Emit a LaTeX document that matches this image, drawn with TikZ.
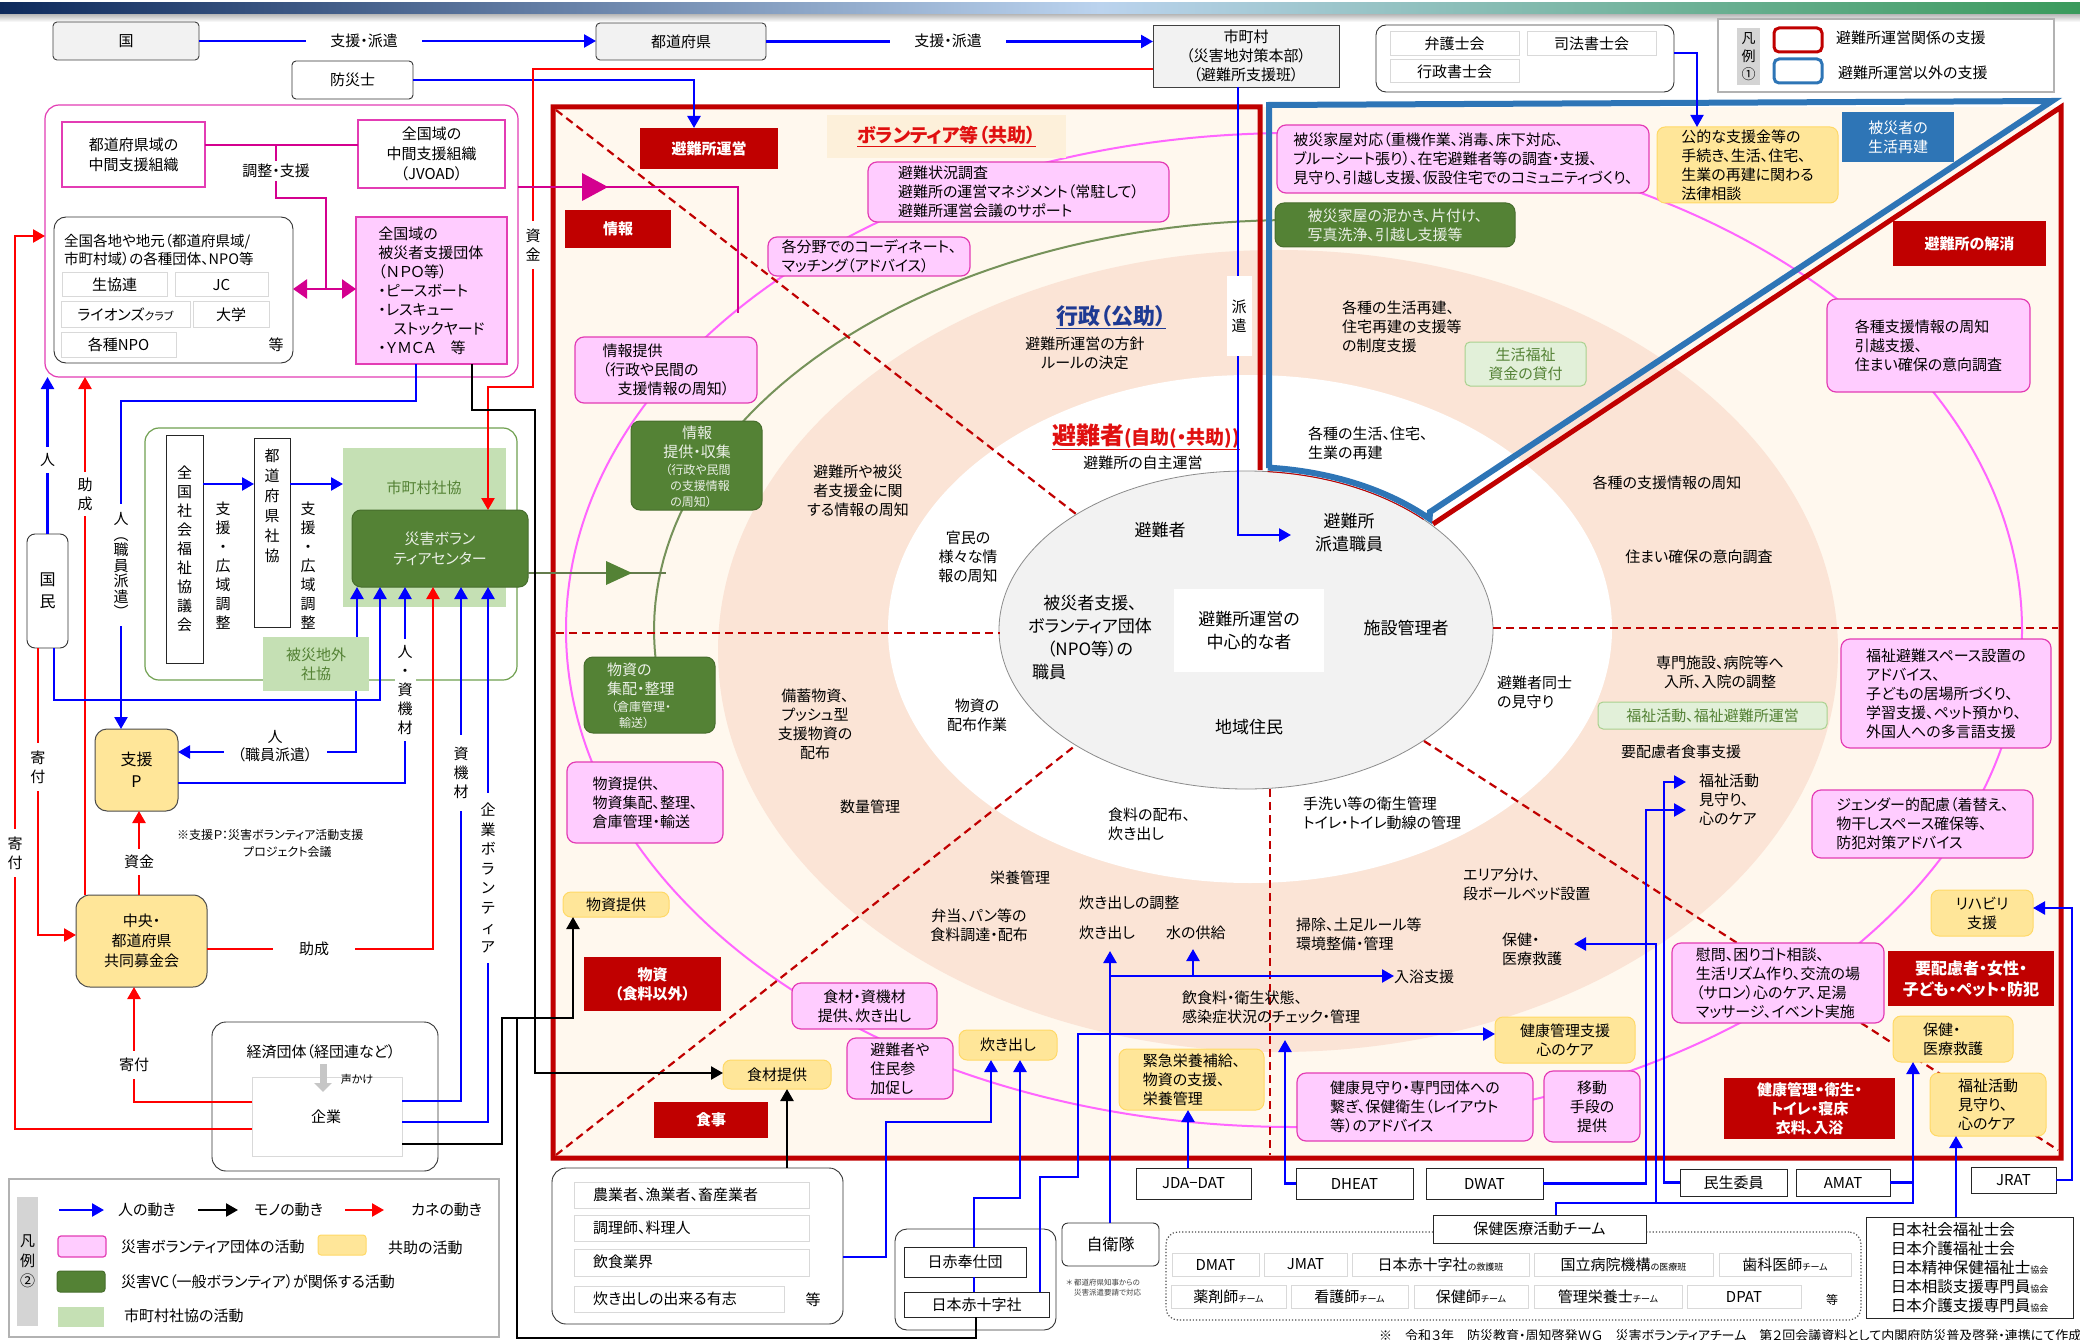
\documentclass[tikz,border=0pt]{standalone}
\usepackage{fontspec}
\setmainfont{Noto Sans CJK JP}[RawFeature=+palt]
\usetikzlibrary{arrows.meta,calc}
\newcommand\fsz[2]{\fontsize{#1}{#2}\selectfont}
\newcommand\bx[7]{\node[#2,anchor=north west,minimum width=#5pt-#3pt,minimum height=#6pt-#4pt] (#1) at (#3,#4) {#7};}
\definecolor{gfill}{HTML}{F2F2F2}
\definecolor{pinkF}{HTML}{FFCCFF}
\definecolor{pinkB}{HTML}{E33CB4}
\definecolor{pinkL}{HTML}{FF66FF}
\definecolor{mag}{HTML}{D4008F}
\definecolor{yelF}{HTML}{FFE699}
\definecolor{yelB}{HTML}{FFD966}
\definecolor{dkred}{HTML}{C00000}
\definecolor{dgreen}{HTML}{548235}
\definecolor{lgreen}{HTML}{C5E0B4}
\definecolor{lgF}{HTML}{E2F0D9}
\definecolor{lgB}{HTML}{A9D18E}
\definecolor{cream}{HTML}{FFF8EE}
\definecolor{peach}{HTML}{FBE4D6}
\definecolor{volbg}{HTML}{FDF0DA}
\definecolor{stblue}{HTML}{2E75B6}
\definecolor{olive}{HTML}{76925A}
\definecolor{navy}{HTML}{0E2A5C}
\definecolor{skyb}{HTML}{BBD3EE}
\definecolor{topg}{HTML}{3A9A5C}
\definecolor{gyblue}{HTML}{1F3A93}
\definecolor{grpG}{HTML}{70A050}
\definecolor{redt}{HTML}{E01010}
\begin{document}
\begin{tikzpicture}[x=1pt,y=-1pt,
  bxs/.style={inner sep=0pt,outer sep=0pt,align=center,font=\fsz{15}{19}},
  gry/.style={bxs,draw=black!75,fill=gfill,rounded corners=4pt,line width=0.9pt},
  wht/.style={bxs,draw=black!80,fill=white,rounded corners=4pt,line width=0.9pt},
  sq/.style={bxs,draw=black!85,fill=white,line width=0.9pt},
  subb/.style={bxs,draw=black!15,fill=white,line width=1pt},
  pnk/.style={bxs,draw=pinkB,fill=pinkF,rounded corners=9pt,line width=1.2pt},
  ylw/.style={bxs,draw=yelB,fill=yelF,rounded corners=8pt,line width=1pt},
  rdb/.style={bxs,fill=dkred,text=white,font=\fsz{15}{19}\bfseries},
  dgr/.style={bxs,fill=dgreen,draw=dgreen!85!black,rounded corners=9pt,text=white!88!dgreen,line width=1pt},
  lgr/.style={bxs,fill=lgF,draw=lgB,rounded corners=5pt,text=dgreen,line width=1pt},
  txt/.style={inner sep=0pt,align=center,font=\fsz{15}{19}},
  lab/.style={txt,fill=white,inner sep=3pt},
  arr/.style={-{Triangle[length=12pt,width=13pt]}},
  bl/.style={draw=blue,line width=2.4pt},
  rd/.style={draw=red,line width=2.4pt},
  bk/.style={draw=black,line width=2.4pt},
  mg/.style={draw=mag,line width=2.6pt},
  dsh/.style={draw=dkred,line width=2.2pt,dash pattern=on 8pt off 5pt}]
\useasboundingbox (0,0) rectangle (2080,1340);
\fill[white] (0,0) rectangle (2080,1340);
% top bar
\shade[left color=navy,right color=skyb] (0,3) rectangle (1100,15);
\shade[left color=skyb,right color=topg] (1100,3) rectangle (2080,15);
\shade[top color=black!25,bottom color=white] (0,15) rectangle (2080,22);

% ===== main area background =====
\fill[cream] (553,107) rectangle (2061,1158);
\fill[peach] (1278,651) ellipse [x radius=560pt,y radius=401pt];
\fill[white] (1250,629) ellipse [x radius=362pt,y radius=254pt];
\draw[pinkL,line width=2pt] (1294,630) ellipse [x radius=728pt,y radius=497pt];
\draw[olive,line width=2pt] plot[domain=91.7:184,samples=60] ({1294+640*cos(\x)},{630-410*sin(\x)});
\filldraw[fill=gfill,draw=black!45,line width=0.8pt] (1246,630) ellipse [x radius=247pt,y radius=159pt];
\draw[dkred,line width=1pt] plot[domain=44:85,samples=20] ({1246+247*cos(\x)},{630-159*sin(\x)});
% dashed dividers
\draw[dsh] (556,110) -- (1076,514);
\draw[dsh] (556,633) -- (1000,633);
\draw[dsh] (556,1155) -- (1076,745);
\draw[dsh] (1270,789) -- (1270,1155);
\draw[dsh] (1424,741) -- (2058,1150);
\draw[dsh] (1493,628) -- (2058,628);
% outlines
\draw[stblue,line width=6pt,line join=miter] (1269,468) -- (1269,105) -- (2052,101) -- (1430,512) -- plot[domain=43:85,samples=30] ({1246+251*cos(\x)},{630-163*sin(\x)});
\draw[dkred,line width=5pt,line join=miter] (1260,470) -- (1260,107) -- (553,107) -- (553,1158) -- (2061,1158) -- (2061,107) -- (1433,524);

% ===== top row =====
\bx{kuni}{gry}{53}{22}{199}{60}{国}
\bx{todo}{gry}{596}{23}{766}{60}{都道府県}
\bx{shi}{gry,sharp corners,font=\fsz{15}{19}}{1153}{25}{1339}{87}{市町村\\（災害地対策本部）\\（避難所支援班）}
\bx{bosai}{wht}{292}{61}{413}{99}{防災士}
\bx{law}{wht,rounded corners=10pt}{1376}{25}{1674}{92}{}
\bx{l1}{subb}{1390}{32}{1519}{56}{弁護士会}
\bx{l2}{subb}{1527}{32}{1656}{56}{司法書士会}
\bx{l3}{subb}{1390}{60}{1519}{83}{行政書士会}
% legend 1
\bx{leg1}{bxs,draw=black!30,line width=1.5pt,fill=white}{1718}{19}{2054}{92}{}
\bx{leg1s}{bxs,fill=black!17,font=\fsz{14}{18}}{1737}{28}{1760}{85}{凡\\例\\①}
\bx{leg1r}{bxs,draw=dkred,line width=3pt,rounded corners=5pt}{1774}{28}{1822}{52}{}
\bx{leg1b}{bxs,draw=stblue,line width=3pt,rounded corners=5pt}{1774}{59}{1822}{83}{}
\node[txt,anchor=west] (leg1t1) at (1836,38) {避難所運営関係の支援};
\node[txt,anchor=west] (leg1t2) at (1838,73) {避難所運営以外の支援};

% ===== pink group =====
\bx{pg}{wht,draw=pinkB,rounded corners=14pt,line width=1.2pt}{45}{105}{518}{377}{}
\bx{pmid}{sq,draw=pinkB,line width=1.2pt,font=\fsz{15}{20}}{62}{122}{205}{187}{都道府県域の\\中間支援組織}
\bx{jvoad}{sq,draw=pinkB,line width=1.2pt,font=\fsz{15}{20}}{358}{120}{505}{188}{全国域の\\中間支援組織\\（JVOAD）}
\bx{orgs}{wht,rounded corners=12pt}{54}{217}{293}{363}{}
\node[txt,align=left,anchor=north west,font=\fsz{14.5}{18}] (orgt) at (64,234) {全国各地や地元（都道府県域/\\市町村域）の各種団体、NPO等};
\bx{o1}{subb}{62}{273}{167}{297}{生協連}
\bx{o2}{subb}{175}{273}{268}{297}{JC}
\bx{o3}{subb}{61}{302}{190}{327}{ライオンズ{\fsz{11}{13}クラブ}}
\bx{o4}{subb}{193}{302}{269}{327}{大学}
\bx{o5}{subb}{61}{332}{176}{357}{各種NPO}
\node[txt] (oetc) at (276,345) {等};
\bx{hsd}{pnk,rounded corners=0pt,align=left}{356}{217}{507}{364}{全国域の\\被災者支援団体\\（ＮＰＯ等）\\・ピースボート\\・レスキュー\\　ストックヤード\\・ＹＭＣＡ　等}

% ===== shakyo group =====
\bx{sg}{wht,draw=grpG,rounded corners=14pt,line width=1.2pt}{145}{428}{517}{680}{}
\bx{msk}{bxs,fill=lgreen}{343}{448}{506}{607}{}
\node[txt,text=dgreen] (mskt) at (424,488) {市町村社協};
\bx{zsk}{sq}{166}{435}{203}{663}{全\\国\\社\\会\\福\\祉\\協\\議\\会}
\bx{tsk}{sq}{254}{438}{290}{627}{}
\node[txt,font=\fsz{15}{20}] (tskt) at (272,506) {都\\道\\府\\県\\社\\協};
\bx{vc}{dgr,font=\fsz{15}{20}}{352}{510}{528}{587}{災害ボラン\\ティアセンター}
\bx{hgs}{bxs,fill=lgreen,text=dgreen}{263}{637}{369}{691}{被災地外\\社協}
\bx{km}{wht,rounded corners=8pt,font=\fsz{16}{22}}{27}{534}{68}{648}{国\\民}
\bx{spp}{ylw,draw=black!70,rounded corners=12pt,font=\fsz{16}{22}}{95}{729}{178}{811}{支援\\P}
\bx{chuo}{ylw,draw=black!70,rounded corners=14pt,font=\fsz{15}{20}}{76}{895}{207}{987}{中央・\\都道府県\\共同募金会}
\bx{keidan}{wht,rounded corners=14pt}{212}{1022}{438}{1171}{}
\node[txt] (kdt) at (321,1052) {経済団体（経団連など）};
\bx{kigyo}{bxs,draw=black!15,fill=white,line width=1pt}{252}{1077}{402}{1156}{}
\node[txt] (kgt) at (326,1117) {企業};
\draw[gray!45,line width=7pt,-{Triangle[length=9pt,width=17pt]}] (323,1064) -- (323,1092);
\node[txt,font=\fsz{11}{13}] (koe) at (357,1079) {声かけ};
\node[txt,anchor=west,font=\fsz{12}{15}] (note1) at (177,835) {※支援Ｐ：災害ボランティア活動支援};
\node[txt,anchor=west,font=\fsz{12}{15}] (note2) at (243,852) {プロジェクト会議};

% legend 2
\bx{leg2}{bxs,draw=black!30,line width=2.5pt,fill=white}{9}{1179}{499}{1337}{}
\bx{leg2s}{bxs,fill=black!17,font=\fsz{15}{20}}{17}{1197}{38}{1326}{凡\\例\\②}
\draw[bl,arr] (59,1210) -- (104,1210);
\draw[bk,arr] (198,1210) -- (238,1210);
\draw[rd,arr] (345,1210) -- (384,1210);
\node[txt,anchor=west] (lg1) at (118,1210) {人の動き};
\node[txt,anchor=west] (lg2) at (254,1210) {モノの動き};
\node[txt,anchor=west] (lg3) at (411,1210) {カネの動き};
\bx{lgp}{pnk,rounded corners=3pt}{58}{1236}{106}{1257}{}
\node[txt,anchor=west] (lg4) at (121,1247) {災害ボランティア団体の活動};
\bx{lgy}{ylw,rounded corners=3pt}{318}{1235}{366}{1255}{}
\node[txt,anchor=west] (lg5) at (388,1248) {共助の活動};
\bx{lgd}{dgr,rounded corners=3pt}{57}{1271}{105}{1292}{}
\node[txt,anchor=west] (lg6) at (121,1282) {災害VC（一般ボランティア）が関係する活動};
\bx{lgl}{bxs,fill=lgreen}{58}{1307}{104}{1327}{}
\node[txt,anchor=west] (lg7) at (124,1316) {市町村社協の活動};

% ===== main area nodes =====
\bx{hu}{rdb}{640}{128}{778}{169}{避難所運営}
\bx{joho}{rdb}{565}{210}{671}{248}{情報}
\bx{volt}{bxs,fill=volbg}{827}{115}{1066}{158}{\textcolor{redt}{\fsz{19}{22}\bfseries\underline{ボランティア等（共助）}}}
\bx{jk}{pnk,align=left}{868}{162}{1169}{222}{避難状況調査\\避難所の運営マネジメント（常駐して）\\避難所運営会議のサポート}
\bx{cd}{pnk,align=left}{768}{237}{970}{276}{各分野でのコーディネート、\\マッチング（アドバイス）}
\bx{jt}{pnk,align=left}{575}{337}{757}{403}{情報提供\\（行政や民間の\\　支援情報の周知）}
\bx{jsc}{dgr}{631}{421}{762}{510}{}
\node[txt,text=white!88!dgreen] (jsct) at (697,442) {情報\\提供・収集};
\node[txt,text=white!88!dgreen,font=\fsz{12}{16},align=left] (jscs) at (698,486) {（行政や民間\\\hspace{5pt}の支援情報\\\hspace{5pt}の周知）};
\bx{bsk}{dgr}{584}{657}{715}{733}{}
\node[txt,text=white!88!dgreen,anchor=west] (bk1) at (607,670) {物資の};
\node[txt,text=white!88!dgreen,anchor=west] (bk2) at (607,689) {集配・整理};
\node[txt,text=white!88!dgreen,anchor=west,font=\fsz{12}{14}] (bk3) at (611,707) {（倉庫管理・};
\node[txt,text=white!88!dgreen,anchor=west,font=\fsz{12}{14}] (bk4) at (619,723) {輸送）};
\bx{bt}{pnk,align=left}{567}{762}{723}{843}{物資提供、\\物資集配、整理、\\倉庫管理・輸送}
\bx{bshi}{ylw}{563}{892}{669}{917}{物資提供}
\bx{bsr}{rdb}{584}{957}{721}{1011}{物資\\（食料以外）}
\bx{shoku}{ylw}{723}{1060}{831}{1089}{食材提供}
\bx{meal}{rdb}{654}{1102}{768}{1138}{食事}
\bx{shk}{pnk}{792}{983}{937}{1029}{食材・資機材\\提供、炊き出し}
\bx{hj}{pnk,align=left}{847}{1038}{953}{1099}{避難者や\\住民参\\加促し}
\bx{tk}{ylw}{959}{1030}{1057}{1060}{炊き出し}

\bx{hk}{pnk,align=left}{1277}{125}{1649}{193}{被災家屋対応（重機作業、消毒、床下対応、\\ブルーシート張り）、在宅避難者等の調査・支援、\\見守り、引越し支援、仮設住宅でのコミュニティづくり、}
\bx{dr}{dgr,align=left}{1275}{203}{1515}{247}{被災家屋の泥かき、片付け、\\写真洗浄、引越し支援等}
\bx{kt}{ylw,align=left}{1657}{127}{1838}{203}{公的な支援金等の\\手続き、生活、住宅、\\生業の再建に関わる\\法律相談}
\bx{sks}{bxs,fill=stblue,text=white}{1842}{112}{1954}{162}{被災者の\\生活再建}
\bx{kaisho}{rdb}{1893}{221}{2046}{266}{避難所の解消}
\bx{ks}{pnk,align=left}{1827}{299}{2030}{392}{各種支援情報の周知\\引越支援、\\住まい確保の意向調査}
\bx{lgf}{lgr}{1465}{342}{1586}{386}{生活福祉\\資金の貸付}
\bx{fkh}{lgr}{1598}{702}{1827}{729}{福祉活動、福祉避難所運営}
\bx{fks}{pnk,align=left}{1841}{639}{2051}{748}{福祉避難スペース設置の\\アドバイス、\\子どもの居場所づくり、\\学習支援、ペット預かり、\\外国人への多言語支援}
\bx{gen}{pnk,align=left}{1812}{790}{2033}{858}{ジェンダー的配慮（着替え、\\物干しスペース確保等、\\防犯対策アドバイス}
\bx{riha}{ylw}{1931}{890}{2033}{936}{リハビリ\\支援}
\bx{yhr}{rdb,font=\fsz{16}{21}\bfseries}{1888}{951}{2054}{1006}{要配慮者・女性・\\子ども・ペット・防犯}
\bx{imon}{pnk,align=left}{1672}{943}{1884}{1023}{慰問、困りゴト相談、\\生活リズム作り、交流の場\\（サロン）心のケア、足湯\\マッサージ、イベント実施}
\bx{hr}{ylw,align=left}{1893}{1016}{2013}{1062}{保健・\\医療救護}
\bx{kkr}{rdb}{1724}{1078}{1895}{1139}{健康管理・衛生・\\トイレ・寝床\\衣料、入浴}
\bx{fk}{ylw,align=left}{1930}{1073}{2046}{1136}{福祉活動\\見守り、\\心のケア}
\bx{kk}{ylw}{1495}{1017}{1635}{1063}{健康管理支援\\心のケア}
\bx{kmm}{pnk,align=left}{1297}{1073}{1533}{1141}{健康見守り・専門団体への\\繋ぎ、保健衛生（レイアウト\\等）のアドバイス}
\bx{ido}{pnk}{1544}{1071}{1640}{1142}{移動\\手段の\\提供}
\bx{ek}{ylw,align=left}{1119}{1049}{1264}{1110}{緊急栄養補給、\\物資の支援、\\栄養管理}

% centre ellipse
\bx{cbox}{bxs,fill=white,font=\fsz{17}{23}}{1174}{589}{1324}{672}{避難所運営の\\中心的な者}
\node[txt,font=\fsz{17}{20}] (e1) at (1160,530) {避難者};
\node[txt,font=\fsz{17}{23}] (hpd) at (1349,533) {避難所\\派遣職員};
\node[txt,font=\fsz{17}{23}] (e3) at (1090,626) {被災者支援、\\ボランティア団体\\（NPO等）の};
\node[txt,font=\fsz{17}{20},anchor=west] (e4) at (1032,672) {職員};
\node[txt,font=\fsz{17}{20}] (e5) at (1406,628) {施設管理者};
\node[txt,font=\fsz{17}{20}] (e6) at (1249,727) {地域住民};

% free texts
\node[txt,text=gyblue,font=\fsz{22}{26}\bfseries] (gyo) at (1111,317) {\underline{行政（公助）}};
\node[txt] (g1) at (1085,353) {避難所運営の方針\\ルールの決定};
\node[txt,text=redt] (hns) at (1146,437) {\bfseries\underline{\fsz{24}{26}避難者\fsz{19}{22}(自助(・共助))}};
\node[txt] (g2) at (1143,463) {避難所の自主運営};
\node[txt,align=left,anchor=west] (g3) at (1342,327) {各種の生活再建、\\住宅再建の支援等\\の制度支援};
\node[txt,align=left,anchor=west] (g4) at (1308,443) {各種の生活、住宅、\\生業の再建};
\node[txt] (g5) at (858,491) {避難所や被災\\者支援金に関\\する情報の周知};
\node[txt] (g6) at (968,557) {官民の\\様々な情\\報の周知};
\node[txt] (g7) at (815,724) {備蓄物資、\\プッシュ型\\支援物資の\\配布};
\node[txt] (g8) at (977,715) {物資の\\配布作業};
\node[txt] (g9) at (870,807) {数量管理};
\node[txt] (g10) at (1020,878) {栄養管理};
\node[txt] (g11) at (979,925) {弁当、パン等の\\食料調達・配布};
\node[txt,anchor=west] (g12) at (1079,903) {炊き出しの調整};
\node[txt,anchor=west] (tkd2) at (1079,933) {炊き出し};
\node[txt,anchor=west] (mizu) at (1166,933) {水の供給};
\node[txt,align=left,anchor=west] (g13) at (1108,824) {食料の配布、\\炊き出し};
\node[txt,align=left,anchor=west] (g14) at (1303,813) {手洗い等の衛生管理\\トイレ・トイレ動線の管理};
\node[txt,align=left,anchor=west] (g15) at (1296,934) {掃除、土足ルール等\\環境整備・管理};
\node[txt,anchor=west] (nyu) at (1394,977) {入浴支援};
\node[txt,align=left,anchor=west] (insh) at (1182,1007) {飲食料・衛生状態、\\感染症状況のチェック・管理};
\node[txt,align=left,anchor=west] (g16) at (1463,884) {エリア分け、\\段ボールベッド設置};
\node[txt,align=left,anchor=west] (hkc) at (1502,949) {保健・\\医療救護};
\node[txt,align=left,anchor=west] (g17) at (1497,692) {避難者同士\\の見守り};
\node[txt] (g18) at (1667,483) {各種の支援情報の周知};
\node[txt] (g19) at (1699,557) {住まい確保の意向調査};
\node[txt] (g20) at (1720,672) {専門施設、病院等へ\\入所、入院の調整};
\node[txt] (g21) at (1681,752) {要配慮者食事支援};
\node[txt,align=left,anchor=west] (fkm) at (1699,800) {福祉活動\\見守り、\\心のケア};

% ===== bottom boxes =====
\bx{noug}{wht,rounded corners=14pt}{552}{1168}{843}{1324}{}
\bx{n1}{subb}{574}{1182}{809}{1208}{}
\bx{n2}{subb}{574}{1215}{809}{1241}{}
\bx{n3}{subb}{574}{1249}{809}{1276}{}
\bx{n4}{subb}{574}{1286}{784}{1312}{}
\node[txt,anchor=west] (n1t) at (593,1195) {農業者、漁業者、畜産業者};
\node[txt,anchor=west] (n2t) at (593,1228) {調理師、料理人};
\node[txt,anchor=west] (n3t) at (593,1262) {飲食業界};
\node[txt,anchor=west] (n4t) at (593,1299) {炊き出しの出来る有志};
\node[txt] (n5t) at (813,1300) {等};
\bx{nrcb}{wht,rounded corners=12pt}{895}{1229}{1056}{1330}{}
\bx{hst}{sq}{904}{1247}{1026}{1277}{日赤奉仕団}
\bx{nrc}{sq}{904}{1292}{1049}{1317}{日本赤十字社}
\bx{sdf}{wht,rounded corners=6pt,font=\fsz{16}{19}}{1062}{1223}{1159}{1266}{自衛隊}
\node[txt,font=\fsz{7.5}{10},align=left,anchor=north west,text=black!75] (sdfn) at (1066,1279) {＊ 都道府県知事からの\\\hspace{8pt}災害派遣要請で対応};
\bx{jda}{sq}{1136}{1168}{1251}{1199}{JDA−DAT}
\bx{dheat}{sq}{1296}{1168}{1413}{1199}{DHEAT}
\bx{dwat}{sq}{1426}{1168}{1543}{1199}{DWAT}
\bx{minsei}{sq}{1680}{1169}{1787}{1196}{民生委員}
\bx{amat}{sq}{1796}{1169}{1890}{1196}{AMAT}
\bx{jrat}{sq}{1971}{1167}{2056}{1193}{JRAT}
\bx{hmt}{bxs,draw=black!70,dotted,rounded corners=12pt,line width=1.2pt}{1166}{1232}{1861}{1320}{}
\bx{hkl}{sq}{1433}{1215}{1646}{1243}{保健医療活動チーム}
\bx{d1}{subb}{1172}{1253}{1259}{1276}{DMAT}
\bx{d2}{subb}{1264}{1253}{1347}{1276}{JMAT}
\bx{d3}{subb}{1352}{1253}{1529}{1276}{日本赤十字社{\fsz{9}{10}の救護班}}
\bx{d4}{subb}{1534}{1253}{1713}{1276}{国立病院機構{\fsz{9}{10}の医療班}}
\bx{d5}{subb}{1719}{1253}{1851}{1276}{歯科医師{\fsz{9}{10}チーム}}
\bx{d6}{subb}{1171}{1285}{1286}{1308}{薬剤師{\fsz{9}{10}チーム}}
\bx{d7}{subb}{1291}{1285}{1408}{1308}{看護師{\fsz{9}{10}チーム}}
\bx{d8}{subb}{1414}{1285}{1528}{1308}{保健師{\fsz{9}{10}チーム}}
\bx{d9}{subb}{1534}{1285}{1682}{1308}{管理栄養士{\fsz{9}{10}チーム}}
\bx{d10}{subb}{1687}{1285}{1801}{1308}{DPAT}
\node[txt,font=\fsz{12}{14}] (detc) at (1832,1300) {等};
\bx{jsw}{sq,align=left,font=\fsz{15.5}{19}}{1866}{1217}{2073}{1318}{日本社会福祉士会\\日本介護福祉士会\\日本精神保健福祉士{\fsz{9}{10}協会}\\日本相談支援専門員{\fsz{9}{10}協会}\\日本介護支援専門員{\fsz{9}{10}協会}}
\node[txt,anchor=west,font=\fsz{13}{15}] (foot) at (1379,1336) {※　令和３年　防災教育・周知啓発ＷＧ　災害ボランティアチーム　第２回会議資料として内閣府防災普及啓発・連携にて作成};

% ===== connectors =====
% top
\draw[bl,arr] (kuni.east) -- (todo.west |- kuni.east);
\node[lab,inner xsep=24pt] (lb1) at (364,41) {支援・派遣};
\draw[bl,arr] (todo.east) -- (shi.west |- todo.east);
\node[lab,inner xsep=24pt] (lb2) at (948,41) {支援・派遣};
\draw[bl,arr] (bosai.east) -- (bosai.east -| 694,0) -- (hu.north -| 694,0);
\draw[rd,arr] (shi.west |- 0,69) -- (533,69) -- (533,387) -- (488,387) -- (vc.north -| 488,0);
\node[lab,inner ysep=8pt] (lb3) at (533,245) {資\\金};
\draw[bl,line width=1.8pt,arr] (law.east |- 0,53) -- (1697,53) -- (kt.north -| 1697,0);
\draw[bl,arr] (shi.south -| 1238,0) -- (1238,535) -- (1291,535);
\node[lab,minimum height=79pt,minimum width=25pt,inner sep=0pt] (lb4) at (1239,316) {派\\遣};
% pink group
\draw[mg] (pmid.east |- 0,145) -- (jvoad.west |- 0,145);
\draw[mg] (276,145) -- (276,198) -- (326,198) -- (326,289);
\node[lab] (lb5) at (276,171) {調整・支援};
\draw[mg,{Triangle[length=14pt,width=19pt]}-{Triangle[length=14pt,width=19pt]}] (orgs.east |- 0,289) -- (hsd.west |- 0,289);
\draw[mg] (pg.east |- 0,187) -- (738,187) -- (738,313);
\fill[mag] (582,173) -- (608,187) -- (582,201) -- cycle;
% green
\draw[olive!85!black,line width=2.4pt] (vc.east |- 0,573) -- (666,573);
\fill[dgreen] (606,561) -- (632,573) -- (606,585) -- cycle;
\draw[bl,arr] (zsk.east |- 0,484) -- (tsk.west |- 0,484);
\draw[bl,arr] (tsk.east |- 0,484) -- (msk.west |- 0,484);
\node[txt] (lb6) at (223,566) {支\\援\\・\\広\\域\\調\\整};
\node[txt] (lb7) at (308,566) {支\\援\\・\\広\\域\\調\\整};
% left flows
\draw[bl,arr] (km.north) -- (km.north |- pg.south);
\node[lab,inner ysep=6pt] (lb8) at (47.5,460) {人};
\draw[rd,arr] (chuo.north -| 85,0) -- (pg.south -| 85,0);
\node[lab,inner ysep=6pt] (lb9) at (85,494) {助\\成};
\draw[rd,arr] (km.south -| 38,0) -- (38,935) -- (chuo.west |- 0,935);
\node[lab,inner ysep=8pt] (lb10) at (38,767) {寄\\付};
\draw[rd,arr] (kigyo.west |- 0,1129) -- (15,1129) -- (15,236) -- (pg.west |- 0,236);
\node[lab,inner ysep=8pt] (lb11) at (15,853) {寄\\付};
\draw[bl,arr] (km.south -| 54,0) -- (54,700) -- (380,700) -- (vc.south -| 380,0);
\draw[bl,arr] (hsd.south -| 416,0) -- (416,401) -- (121,401) -- (spp.north -| 121,0);
\node[lab,font=\fsz{15}{15.5},inner ysep=8pt] (lb12) at (121,565) {人\\︵\\職\\員\\派\\遣\\︶};
\draw[bk,arr] (hsd.south -| 472,0) -- (472,410) -- (535,410) -- (535,1073) -- (shoku.west |- 0,1073);
\draw[bl,arr] (hgs.north -| 357,0) -- (vc.south -| 357,0);
\draw[bl,arr] (hgs.south -| 356,0) -- (356,752) -- (spp.east |- 0,752);
\node[lab,font=\fsz{15}{18},inner xsep=14pt] (lb13) at (275,746) {人\\（職員派遣）};
\draw[bl,arr] (spp.east |- 0,783) -- (405,783) -- (vc.south -| 405,0);
\node[lab,inner ysep=6pt] (lb14) at (405,690) {人\\・\\資\\機\\材};
\draw[rd,arr] (chuo.east |- 0,949) -- (433,949) -- (vc.south -| 433,0);
\node[lab,inner xsep=26pt] (lb15) at (314,949) {助成};
\draw[bl,arr] (kigyo.east |- 0,1101) -- (461,1101) -- (vc.south -| 461,0);
\node[lab,inner ysep=12pt] (lb16) at (461,773) {資\\機\\材};
\draw[bl,arr] (kigyo.east |- 0,1122) -- (488,1122) -- (vc.south -| 488,0);
\node[lab,font=\fsz{15}{19.6},inner ysep=10pt] (lb17) at (488,878) {企\\業\\ボ\\ラ\\ン\\テ\\ィ\\ア};
\draw[rd,arr] (chuo.north -| 139,0) -- (spp.south -| 139,0);
\node[lab,inner ysep=6pt] (lb18) at (139,862) {資金};
\draw[rd,arr] (kigyo.west |- 0,1102) -- (134,1102) -- (chuo.south -| 134,0);
\node[lab,inner ysep=7pt] (lb19) at (134,1065) {寄付};
% goods / food
\draw[bk,arr] (kigyo.east |- 0,1144) -- (502,1144) -- (502,1018) -- (573,1018) -- (bshi.south -| 573,0);
\draw[bk] (nrc.south -| 976,0) -- (976,1338) -- (517,1338) -- (517,1018);
\draw[bk,arr] (noug.north -| 787,0) -- (shoku.south -| 787,0);
\draw[bl,arr] (noug.east |- 0,1257) -- (886,1257) -- (886,1122) -- (991,1122) -- (tk.south -| 991,0);
\draw[bl,arr] (hst.north -| 974,0) -- (974,1198) -- (1020,1198) -- (tk.south -| 1020,0);
\draw[bl] (nrc.north -| 974,0) -- (hst.south -| 974,0);
\draw[bl,arr] (nrc.north -| 1040,0) -- (1040,1177) -- (1078,1177) -- (1078,1034) -- (kk.west |- 0,1034);
\draw[bl,arr] (sdf.north -| 1110,0) -- (1110,951);
\draw[bl,arr] (1110,976) -- (nyu.west |- 0,976);
\draw[bl,arr] (1193,976) -- (1193,949);
\draw[bl,arr] (jda.north -| 1188,0) -- (ek.south -| 1188,0);
\draw[bl,arr] (dheat.west) -- (dheat.west -| 1285,0) -- (1285,1040);
\draw[bl,arr] (dwat.east) -- (dwat.east -| 1646,0) -- (1646,810) -- (1686,810);
\draw[bl,arr] (minsei.west) -- (minsei.west -| 1664,0) -- (1664,782) -- (1686,782);
\draw[bl,arr] (hkl.north -| 1556,0) -- (1556,1203) -- (1913,1203) -- (hr.south -| 1913,0);
\draw[bl] (amat.east) -- (amat.east -| 1913,0);
\draw[bl,arr] (1656,1203) -- (1656,944) -- (1574,944);
\draw[bl,arr] (jrat.east) -- (jrat.east -| 2072,0) -- (2072,908) -- (riha.east |- 0,908);
\draw[bl,arr] (jsw.north -| 1956,0) -- (fk.south -| 1956,0);
\end{tikzpicture}
\end{document}
